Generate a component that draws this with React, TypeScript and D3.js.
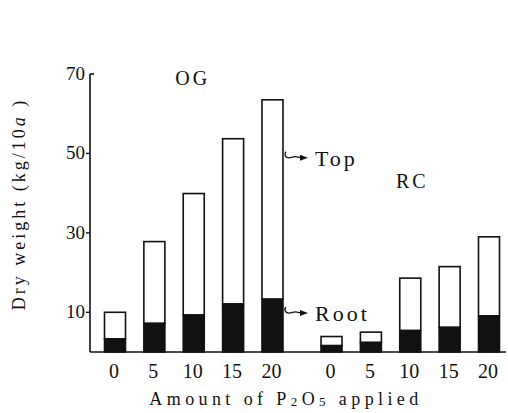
import React from "react";
import * as d3 from "d3";

const W = 508;
const H = 413;

// P2O5 rates (kg/10a) for each site
const RATES = ["0", "5", "10", "15", "20"];
const GROUPS = ["OG", "RC"];

// total dry weight (top + root) and root dry weight, kg/10a
const OG_TOTAL = [10.0, 27.8, 39.9, 53.7, 63.5];
const OG_ROOT = [3.3, 7.2, 9.3, 12.1, 13.3];
const RC_TOTAL = [3.9, 5.0, 18.6, 21.5, 29.0];
const RC_ROOT = [1.6, 2.4, 5.4, 6.2, 9.1];

const Y_TICKS = [10, 30, 50, 70];

const FONT = "Liberation Serif";
const INK = "#111";

const bars = [
  ...RATES.map((r, i) => ({ key: `og${i}`, slot: i, rate: r, total: OG_TOTAL[i], root: OG_ROOT[i] })),
  ...RATES.map((r, i) => ({ key: `rc${i}`, slot: i + 5.5, rate: r, total: RC_TOTAL[i], root: RC_ROOT[i] })),
];

// scales
const x = d3.scaleLinear().domain([0, 9.5]).range([115, 489]);
const y = d3.scaleLinear().domain([0, 70]).range([352, 74]);
const barW = 21;
const axisX = 90;

export default function App() {
  const last = bars[4];
  const bx = x(last.slot) + barW / 2 + 3;
  const callouts = [
    { label: "Top", cy: y((last.total + last.root) / 2 + 10.5) },
    { label: "Root", cy: y(last.root - 3.5) },
  ];

  return (
    <svg
      width={W}
      height={H}
      style={{ position: "absolute", left: 0, top: 0, background: "#fff" }}
    >
      {/* bars */}
      {bars.map((d) => (
        <g key={d.key}>
          <rect
            x={x(d.slot) - barW / 2}
            width={barW}
            y={y(d.total)}
            height={y(d.root) - y(d.total)}
            fill="#fff"
            stroke={INK}
            strokeWidth={1.6}
          />
          <rect
            x={x(d.slot) - barW / 2}
            width={barW}
            y={y(d.root)}
            height={y(0) - y(d.root)}
            fill={INK}
            stroke={INK}
            strokeWidth={1.6}
          />
          <text
            x={x(d.slot) - 1}
            y={378}
            textAnchor="middle"
            fontFamily={FONT}
            fontSize={20}
            fill={INK}
          >
            {d.rate}
          </text>
        </g>
      ))}

      {/* axes */}
      <line x1={axisX} x2={axisX} y1={y(70)} y2={y(0)} stroke={INK} strokeWidth={1.6} />
      <line x1={axisX} x2={W - 2} y1={y(0)} y2={y(0)} stroke={INK} strokeWidth={1.6} />
      <line x1={axisX} x2={axisX + 4} y1={y(70)} y2={y(70)} stroke={INK} strokeWidth={1.6} />
      {Y_TICKS.map((t) => (
        <g key={t}>
          {t !== 70 && (
            <line x1={axisX - 4} x2={axisX} y1={y(t)} y2={y(t)} stroke={INK} strokeWidth={1.4} />
          )}
          <text
            x={axisX - 5}
            y={y(t) + 6}
            textAnchor="end"
            fontFamily={FONT}
            fontSize={19}
            fill={INK}
          >
            {t}
          </text>
        </g>
      ))}

      {/* group labels */}
      <text x={x(2) - 1} y={85} textAnchor="middle" fontFamily={FONT} fontSize={20} letterSpacing={3} fill={INK}>
        {GROUPS[0]}
      </text>
      <text x={x(7.5) + 2} y={188} textAnchor="middle" fontFamily={FONT} fontSize={20} letterSpacing={3} fill={INK}>
        {GROUPS[1]}
      </text>

      {/* Top / Root call-outs */}
      {callouts.map((c) => (
        <g key={c.label}>
          <path
            d={`M${bx},${c.cy - 6} c-2,2 -1,6 3,6 c3,0 5,-2 8,-1 L${bx + 16},${c.cy}`}
            fill="none"
            stroke={INK}
            strokeWidth={1.3}
          />
          <path d={`M${bx + 22},${c.cy} L${bx + 14},${c.cy - 3} L${bx + 14},${c.cy + 3} Z`} fill={INK} />
          <text x={bx + 29} y={c.cy + 8} fontFamily={FONT} fontSize={22} letterSpacing={3} fill={INK}>
            {c.label}
          </text>
        </g>
      ))}

      {/* axis titles */}
      <text x={286} y={405} textAnchor="middle" fontFamily={FONT} fontSize={18} letterSpacing={4.4} fill={INK}>
        Amount of P
        <tspan fontSize={13} dy={1}>2</tspan>
        <tspan dy={-1}>O</tspan>
        <tspan fontSize={13} dy={1}>5</tspan>
        <tspan dy={-1}>{"  applied"}</tspan>
      </text>
      <text
        transform="translate(25,204) rotate(-90)"
        textAnchor="middle"
        fontFamily={FONT}
        fontSize={18}
        letterSpacing={3}
        fill={INK}
      >
        Dry weight (kg/10
        <tspan fontStyle="italic">a</tspan>
        {" )"}
      </text>
    </svg>
  );
}
